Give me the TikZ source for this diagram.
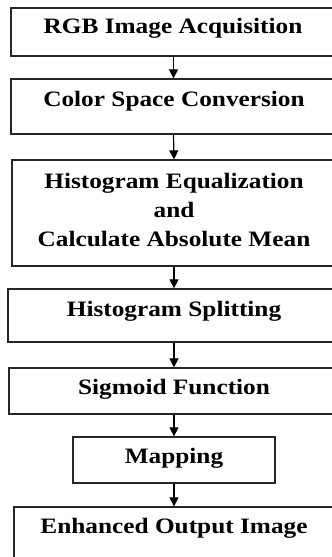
\documentclass[tikz,border=0pt]{standalone}
\usepackage{fontspec}
\setmainfont{Liberation Serif}[FakeStretch=1.15]
\usetikzlibrary{arrows.meta}
\begin{document}
\begin{tikzpicture}[x=1pt,y=-1pt,
  box/.style={draw=black!85, line width=1.3pt, inner sep=0pt},
  lbl/.style={font=\bfseries\fontsize{22}{29}\selectfont, align=center, inner sep=0pt, text=black},
  arr/.style={line width=1.2pt, -{Triangle[length=9pt,width=9pt]}}]
\useasboundingbox (0,0) rectangle (332,557);
\clip (0,0) rectangle (332,557);
\fill[white] (0,0) rectangle (332,557);
% boxes
\node[box, minimum width=325pt, minimum height=48pt] (b1) at (173.5,32) {};
\node[box, minimum width=325pt, minimum height=55pt] (b2) at (173.5,106.5) {};
\node[box, minimum width=324pt, minimum height=106pt] (b3) at (174,213) {};
\node[box, minimum width=332pt, minimum height=53pt] (b4) at (174,315.5) {};
\node[box, minimum width=330pt, minimum height=46pt] (b5) at (174,391) {};
\node[box, minimum width=202pt, minimum height=46pt] (b6) at (174,460) {};
\node[box, minimum width=320pt, minimum height=70pt] (b7) at (174,542) {};
% labels
\node[lbl] (t1) at (173,28.5) {RGB Image Acquisition};
\node[lbl] (t2) at (174,101) {Color Space Conversion};
\node[lbl] (t3) at (174,209.5) {Histogram Equalization\\and\\Calculate Absolute Mean};
\node[lbl] (t4) at (174,311) {Histogram Splitting};
\node[lbl] (t5) at (174,389) {Sigmoid Function};
\node[lbl] (t6) at (174,458.5) {Mapping};
\node[lbl] (t7) at (174,528) {Enhanced Output Image};
% arrows
\draw[arr] (b1.south) -- (b2.north);
\draw[arr] (b2.south) -- (b3.north);
\draw[arr] (b3.south) -- (b4.north);
\draw[arr] (b4.south) -- (b5.north);
\draw[arr] (b5.south) -- (b6.north);
\draw[arr] (b6.south) -- (b7.north);
\end{tikzpicture}
\end{document}
